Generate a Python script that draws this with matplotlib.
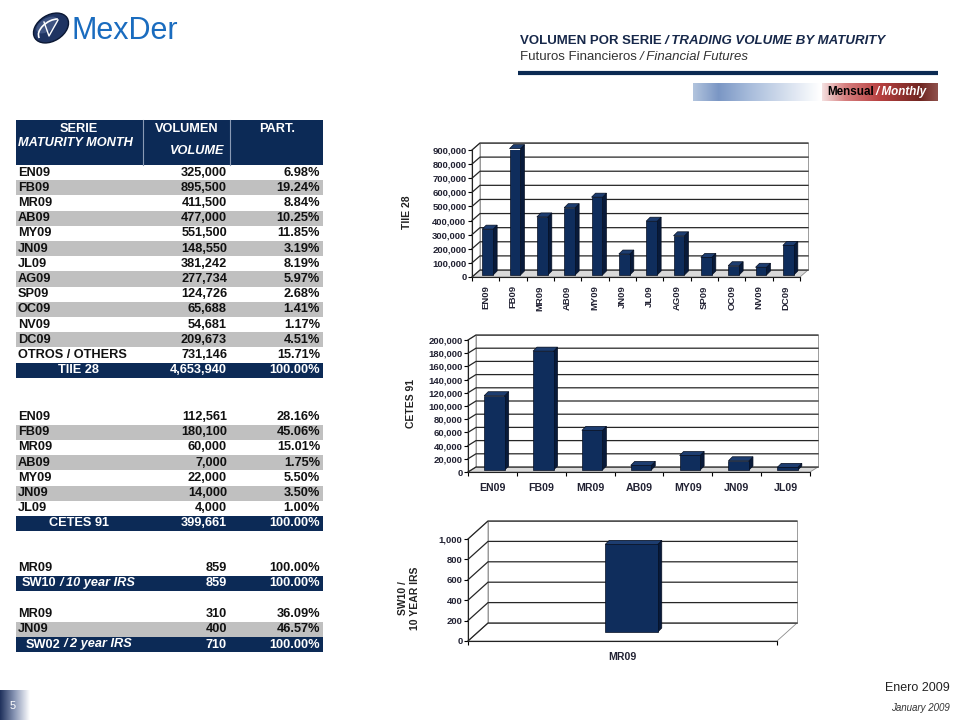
import matplotlib.pyplot as plt
import numpy as np
from matplotlib.patches import Rectangle, Polygon, Ellipse, Arc
from matplotlib.ticker import FuncFormatter

plt.rcParams['font.family'] = ['Liberation Sans', 'DejaVu Sans']

# ---- data ----
tiie_series = ['EN09', 'FB09', 'MR09', 'AB09', 'MY09', 'JN09', 'JL09',
               'AG09', 'SP09', 'OC09', 'NV09', 'DC09']
tiie_volume = [325000, 895500, 411500, 477000, 551500, 148550, 381242,
               277734, 124726, 65688, 54681, 209673]
tiie_share = [6.98, 19.24, 8.84, 10.25, 11.85, 3.19, 8.19, 5.97, 2.68, 1.41, 1.17, 4.51]
tiie_others = ('OTROS / OTHERS', 731146, 15.71)
tiie_total = (4653940, 100.00)

cetes_series = ['EN09', 'FB09', 'MR09', 'AB09', 'MY09', 'JN09', 'JL09']
cetes_volume = [112561, 180100, 60000, 7000, 22000, 14000, 4000]
cetes_share = [28.16, 45.06, 15.01, 1.75, 5.50, 3.50, 1.00]
cetes_total = (399661, 100.00)

sw10_series = ['MR09']
sw10_volume = [859]
sw10_share = [100.00]
sw10_total = (859, 100.00)

sw02_series = ['MR09', 'JN09']
sw02_volume = [310, 400]
sw02_share = [36.09, 46.57]
sw02_total = (710, 100.00)

NAVY = '#0c2a56'
BAR = '#0f2d5c'

fig = plt.figure(figsize=(9.6, 7.2), dpi=100, facecolor='white')
bg = fig.add_axes([0, 0, 1, 1])
bg.set_xlim(0, 960)
bg.set_ylim(720, 0)
bg.axis('off')
renderer = fig.canvas.get_renderer()


def rich(x, y, parts, ha='left', gap=3, **kw):
    # put several text pieces with different styles one after another
    kw.setdefault('va', 'center')
    texts, widths = [], []
    for s, st in parts:
        t = bg.text(0, y, s, **kw, **st)
        texts.append(t)
        widths.append(t.get_window_extent(renderer=renderer).width)
    total = sum(widths) + gap * (len(parts) - 1)
    if ha == 'center':
        x = x - total / 2
    elif ha == 'right':
        x = x - total
    for t, w in zip(texts, widths):
        t.set_x(x)
        x += w + gap


def hgrad(x0, x1, y0, y1, stops):
    pos = np.linspace(0, 1, 256)
    cols = np.stack([np.interp(pos, [s[0] for s in stops], [s[1][k] for s in stops])
                     for k in range(3)], axis=-1)
    bg.imshow(cols[None, :, :], extent=(x0, x1, y1, y0), aspect='auto',
              interpolation='bilinear', zorder=1)


# ---- logo ----
bg.add_patch(Ellipse((51, 28), 38, 26, angle=-32, fc='#1f3462', ec='#0a1733', lw=1, zorder=3))
bg.add_patch(Ellipse((47, 25), 24, 13, angle=-32, fc='#4d6391', ec='none', zorder=3, alpha=0.7))
bg.add_patch(Arc((52, 30), 30, 18, angle=-32, theta1=180, theta2=330, color='white', lw=1.2, zorder=4))
bg.plot([44, 49, 58], [22, 36, 20], color='white', lw=1.0, zorder=4)
bg.text(71, 31, 'MexDer', fontsize=22, color='#1a6cbf', va='center', ha='left')

# ---- header ----
rich(520, 40.5, [('VOLUMEN POR SERIE', {}), ('/ TRADING VOLUME BY MATURITY', {'style': 'italic'})],
     fontsize=9.5, fontweight='bold', color='#17284a')
rich(520, 56.5, [('Futuros Financieros', {}), ('/ Financial Futures', {'style': 'italic'})],
     fontsize=9.5, color='#333333')
bg.plot([518, 938], [73, 73], color='#0b2a52', lw=3, solid_capstyle='butt')

hgrad(693, 820, 83, 101, [(0, (0.70, 0.77, 0.87)), (0.2, (0.48, 0.59, 0.77)),
                          (0.45, (0.66, 0.74, 0.86)), (1.0, (1, 1, 1))])
hgrad(822, 938, 83, 101, [(0, (0.96, 0.88, 0.88)), (0.2, (0.84, 0.50, 0.50)),
                          (0.5, (0.72, 0.25, 0.25)), (0.85, (0.44, 0.15, 0.13)),
                          (1, (0.56, 0.32, 0.30))])
rich(827, 92, [('Mensual', {'color': 'black'}), ('/ Monthly', {'color': 'white', 'style': 'italic'})],
     gap=2, fontsize=8.4, fontweight='bold')

# ---- tables ----
TL, TR = 16, 323
RH = 15.2
FS = 9.2


def table_block(top, series, vols, shares, total, total_parts, total_ha, extra=None):
    rows = [(s, f'{v:,}', f'{p:.2f}%') for s, v, p in zip(series, vols, shares)]
    if extra is not None:
        rows.append((extra[0], f'{extra[1]:,}', f'{extra[2]:.2f}%'))
    for i, (s, v, p) in enumerate(rows):
        yc = top + RH * (i + 0.5)
        if i % 2 == 1:
            bg.add_patch(Rectangle((TL, top + RH * i), TR - TL, RH, fc='#c0c0c0', ec='none', zorder=1))
        kw = dict(fontsize=FS, fontweight='bold', color='#111111', va='center', zorder=3)
        bg.text(18, yc, s, ha='left', **kw)
        bg.text(227, yc, v, ha='right', **kw)
        bg.text(320, yc, p, ha='right', **kw)
    n = len(rows)
    bg.add_patch(Rectangle((TL, top + RH * n), TR - TL, RH, fc=NAVY, ec='none', zorder=1))
    yc = top + RH * (n + 0.5)
    kw = dict(fontsize=FS, fontweight='bold', color='white', va='center', zorder=3)
    rich(79 if total_ha == 'center' else 22, yc, total_parts, ha=total_ha, **kw)
    bg.text(227, yc, f'{total[0]:,}', ha='right', **kw)
    bg.text(320, yc, f'{total[1]:.2f}%', ha='right', **kw)


# header of the table
bg.add_patch(Rectangle((TL, 120), TR - TL, 45, fc=NAVY, ec='none', zorder=1))
for xs in (143, 230):
    bg.plot([xs, xs], [120, 165], color='#8a9ab5', lw=0.8, zorder=2)
hk = dict(fontsize=FS, fontweight='bold', color='white', va='center', zorder=3)
bg.text(79, 129, 'SERIE', ha='center', **hk)
bg.text(18, 143, 'MATURITY MONTH', ha='left', style='italic', **hk)
bg.text(187, 129, 'VOLUMEN', ha='center', **hk)
bg.text(197, 151, 'VOLUME', ha='center', style='italic', **hk)
bg.text(277, 129, 'PART.', ha='center', **hk)

table_block(165, tiie_series, tiie_volume, tiie_share, tiie_total,
            [('TIIE 28', {})], 'center', extra=tiie_others)
table_block(409.5, cetes_series, cetes_volume, cetes_share, cetes_total,
            [('CETES 91', {})], 'center')
table_block(560.5, sw10_series, sw10_volume, sw10_share, sw10_total,
            [('SW10', {}), ('/ 10 year IRS', {'style': 'italic'})], 'left')
table_block(606.5, sw02_series, sw02_volume, sw02_share, sw02_total,
            [('SW02', {}), ('/ 2 year IRS', {'style': 'italic'})], 'center')


# ---- 3d-looking bar charts ----
def chart3d(left, right, bottom, top, cats, vals, ymax, step, depth, bar_off, bar_w, rot,
            lpad, xfs, floor='#d9d9d9'):
    ax = fig.add_axes([left / 960, 1 - bottom / 720, (right - left) / 960, (bottom - top) / 720])
    n = len(cats)
    x = np.arange(n)
    ax.set_xlim(-0.5, n - 0.5)
    ax.set_ylim(0, ymax)
    ppx = (right - left) / n
    ppy = (bottom - top) / ymax
    dx, dy = depth[0] / ppx, depth[1] / ppy
    x0, x1 = -0.5, n - 0.5
    edge = dict(ec='#8c8c8c', lw=0.6, clip_on=False, zorder=1)
    ax.add_patch(Polygon([(x0, 0), (x1, 0), (x1 + dx, dy), (x0 + dx, dy)], fc=floor, **edge))
    ax.add_patch(Polygon([(x0, 0), (x0, ymax), (x0 + dx, ymax + dy), (x0 + dx, dy)], fc='white', **edge))
    ax.add_patch(Rectangle((x0 + dx, dy), x1 - x0, ymax, fc='white', **edge))
    ticks = np.arange(0, ymax + 1, step)
    for v in ticks:
        ax.plot([x0, x0 + dx, x1 + dx], [v, v + dy, v + dy], color='#262626', lw=0.9,
                clip_on=False, zorder=2)
    bx, by = bar_off[0] / ppx, bar_off[1] / ppy
    sx, sy = 4 / ppx, 4 / ppy
    ax.bar(x + bx, vals, bar_w, bottom=by, color=BAR, ec='#050f22', lw=0.5, zorder=4)
    for xi, v in zip(x, vals):
        xl, xr, tp = xi + bx - bar_w / 2, xi + bx + bar_w / 2, v + by
        ax.add_patch(Polygon([(xr, by), (xr, tp), (xr + sx, tp + sy), (xr + sx, by + sy)],
                             fc='#081a3a', ec='#050f22', lw=0.5, zorder=3, clip_on=False))
        ax.add_patch(Polygon([(xl, tp), (xr, tp), (xr + sx, tp + sy), (xl + sx, tp + sy)],
                             fc='#1d3d70', ec='#050f22', lw=0.5, zorder=3, clip_on=False))
    ax.patch.set_visible(False)
    for s in ('top', 'right'):
        ax.spines[s].set_visible(False)
    for s in ('left', 'bottom'):
        ax.spines[s].set_color('#222222')
        ax.spines[s].set_linewidth(0.8)
        ax.spines[s].set_zorder(5)
    ax.set_yticks(ticks)
    ax.yaxis.set_major_formatter(FuncFormatter(lambda v, p: f'{v:,.0f}'))
    ax.tick_params(axis='y', length=3, width=0.8, labelsize=6.8, pad=1, labelcolor='#222233')
    ax.set_xticks(x)
    ax.set_xticklabels(cats, rotation=rot)
    ax.set_xticks(np.arange(n + 1) - 0.5, minor=True)
    ax.tick_params(axis='x', which='major', length=0, labelsize=xfs, pad=lpad, labelcolor='#222233')
    ax.tick_params(axis='x', which='minor', length=3, width=0.8)
    for lab in ax.get_xticklabels() + ax.get_yticklabels():
        lab.set_fontweight('bold')
    return ax


chart3d(472, 800, 277, 150, tiie_series, tiie_volume, 900000, 100000, (8, 7), (2, 2), 0.4, 90, 6, 6.8)
chart3d(468, 810, 472, 340, cetes_series, cetes_volume, 200000, 20000, (8, 5), (2, 2), 0.42, 0, 8, 7.6)
chart3d(468, 777, 641, 539, sw10_series, sw10_volume, 1000, 200, (20, 18), (9, 9), 0.17, 0, 8, 7.6,
        floor='white')

yk = dict(fontsize=7.5, fontweight='bold', color='#222222', rotation=90, ha='center', va='center')
bg.text(407, 212, 'TIIE 28', **yk)
bg.text(411, 404, 'CETES 91', **yk)
bg.text(409, 598, 'SW10 /\n10 YEAR IRS', multialignment='center', **yk)

# ---- footer ----
hgrad(0, 30, 690, 720, [(0, (0.12, 0.19, 0.36)), (0.5, (0.55, 0.60, 0.72)), (1, (1, 1, 1))])
bg.text(13, 706, '5', fontsize=8, color='white', ha='center', va='center', zorder=3)
bg.text(950, 688, 'Enero 2009', fontsize=9, color='#222222', ha='right', va='center')
bg.text(950, 708, 'January 2009', fontsize=7, style='italic', color='#333333', ha='right', va='center')

bg.set_xlim(0, 960)
bg.set_ylim(720, 0)
fig.savefig('out.png', dpi=100, facecolor='white')
